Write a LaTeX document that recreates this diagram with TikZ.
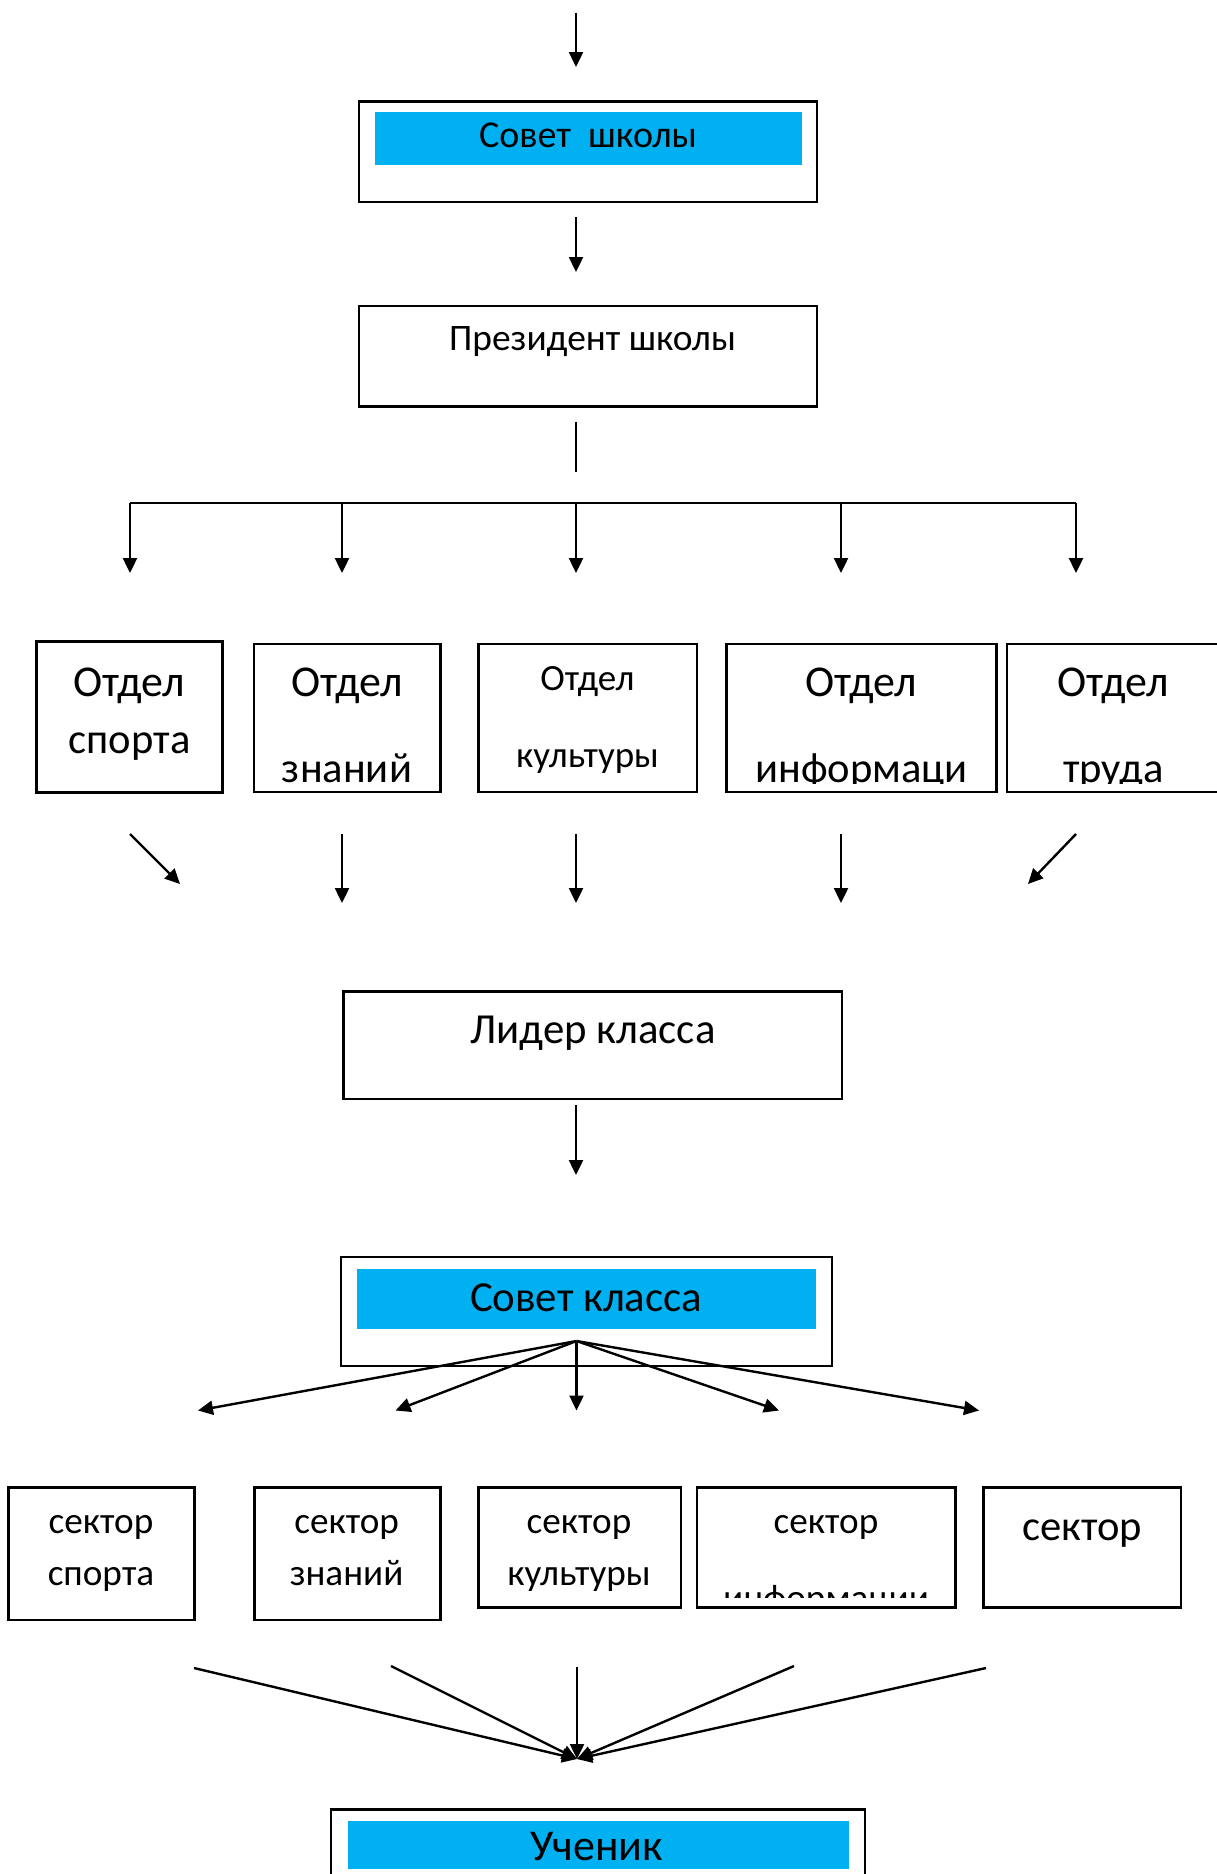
\documentclass[tikz,border=0pt]{standalone}
\usepackage{fontspec}
\setmainfont{Carlito}
\usetikzlibrary{arrows.meta}
\definecolor{barblue}{RGB}{0,176,240}
\tikzset{box/.style = {draw, line width=1.2pt, inner sep=0, outer sep=0},
  arr/.style = {line width=1.2pt, -{Triangle[length=7.5pt, width=7pt]}},
  txt/.style = {anchor=base, inner sep=0}}
\newcommand{\fs}[1]{\fontsize{#1}{#1}\selectfont}

\begin{document}
\begin{tikzpicture}[x=0.5pt, y=-0.5pt]
    \useasboundingbox (0, 0) rectangle (1216, 1874);

    % school level
    \coordinate (t0) at (576, 12.6);
    \coordinate (t1) at (576, 67);
    \draw [arr] (t0) -- (t1);

    \node [box, minimum width=229pt, minimum height=50.25pt] (sovSh) at (588, 151.75) {};
    \fill [barblue] (375, 112) rectangle (802, 165);
    \node [txt, font=\fs{19pt}] (sovShT) at (588, 147.3) {Совет~~школы};

    \coordinate (t2) at (576, 217);
    \coordinate (t3) at (576, 272);
    \draw [arr] (t2) -- (t3);

    \node [box, minimum width=229pt, minimum height=50.2pt] (pres) at (588, 356.2) {};
    \node [txt, font=\fs{18.7pt}] (presT) at (592.5, 350) {Президент школы};

    \coordinate (p0) at (576, 421.7);
    \coordinate (p1) at (576, 471.5);
    \draw [line width=1.2pt] (p0) -- (p1);

    \coordinate (busL) at (130, 503);
    \coordinate (busR) at (1076, 503);
    \draw [line width=1.2pt] (busL) -- (busR);
    \foreach \x [count=\i] in {130, 342, 576, 841, 1076} {
      \coordinate (drop\i) at (\x, 573);
      \draw [arr] (drop\i |- busL) -- (drop\i);
    }

    % departments
    \node [box, minimum width=93.1pt, minimum height=75.45pt] (otdSport) at (129.5, 717) {};
    \node [box, minimum width=93.25pt, minimum height=74.25pt] (otdZn) at (347.25, 718) {};
    \node [box, minimum width=109.25pt, minimum height=74.25pt] (otdKult) at (587.75, 718) {};
    \node [box, minimum width=135pt, minimum height=74.25pt] (otdInf) at (861.55, 718) {};
    \node [box, minimum width=106.65pt, minimum height=74.25pt] (otdTrud) at (1113.35, 718) {};

    \node [txt, font=\fs{22pt}] (otdSportA) at (129.5, 696) {Отдел};
    \node [txt, font=\fs{21.3pt}] (otdSportB) at (129.5, 753) {спорта};
    \node [txt, font=\fs{22pt}] (otdZnA) at (347, 696) {Отдел};
    \node [txt, font=\fs{21.3pt}] (otdZnB) at (347, 782) {знаний};
    \node [txt, font=\fs{18.5pt}] (otdKultA) at (587.5, 690.6) {Отдел};
    \node [txt, font=\fs{18.5pt}] (otdKultB) at (587.5, 767) {культуры};
    \node [txt, font=\fs{22pt}] (otdInfA) at (861.5, 696) {Отдел};
    \node [txt, font=\fs{22pt}] (otdTrudA) at (1113.5, 696) {Отдел};
    \begin{scope}
      \clip (700, 650) rectangle (1216, 783);
      \node [txt, font=\fs{21.3pt}] (otdInfB) at (861.5, 782) {информаци};
      \node [txt, font=\fs{21.3pt}] (otdTrudB) at (1113.5, 782) {труда};
    \end{scope}

    \foreach \a/\b/\c [count=\i] in {130/180/884, 342/342/903, 576/576/903, 841/841/903, 1076/1028/884} {
      \coordinate (u\i) at (\a, 834);
      \coordinate (v\i) at (\b, \c);
      \draw [arr] (u\i) -- (v\i);
    }

    % class level
    \node [box, minimum width=249.25pt, minimum height=53.75pt] (lider) at (592.75, 1045.25) {};
    \node [txt, font=\fs{21.4pt}] (liderT) at (593, 1043.3) {Лидер класса};

    \coordinate (l0) at (576, 1105);
    \coordinate (l1) at (576, 1175);
    \draw [arr] (l0) -- (l1);

    \node [box, minimum width=245.5pt, minimum height=54.35pt] (sovKl) at (586.5, 1311.35) {};
    \fill [barblue] (356.7, 1269) rectangle (816, 1329);
    \node [txt, font=\fs{21.4pt}] (sovKlT) at (586, 1311) {Совет класса};

    \coordinate (fanTop) at (576.5, 1341);
    \foreach \x [count=\i] in {198, 395.5, 576.5, 779, 979} {
      \coordinate (f\i) at (\x, 1410.5);
      \draw [arr] (fanTop) -- (f\i);
    }

    % sectors
    \node [box, minimum width=93.05pt, minimum height=66.3pt] (sSport) at (101.55, 1553.7) {};
    \node [box, minimum width=93.05pt, minimum height=66.3pt] (sZn) at (347.45, 1553.7) {};
    \node [box, minimum width=101.25pt, minimum height=60.05pt] (sKult) at (579.75, 1547.45) {};
    \node [box, minimum width=129.2pt, minimum height=60.05pt] (sInf) at (826.2, 1547.45) {};
    \node [box, minimum width=98.85pt, minimum height=60.05pt] (sLast) at (1082.15, 1547.45) {};

    \node [txt, font=\fs{18.6pt}] (sSportA) at (101, 1533) {сектор};
    \node [txt, font=\fs{18.6pt}] (sSportB) at (101, 1585) {спорта};
    \node [txt, font=\fs{18.6pt}] (sZnA) at (346.6, 1533) {сектор};
    \node [txt, font=\fs{18.6pt}] (sZnB) at (346.6, 1585) {знаний};
    \node [txt, font=\fs{18.6pt}] (sKultA) at (579, 1533) {сектор};
    \node [txt, font=\fs{18.6pt}] (sKultB) at (579, 1585) {культуры};
    \node [txt, font=\fs{18.6pt}] (sInfA) at (826, 1533) {сектор};
    \begin{scope}
      \clip (700, 1490) rectangle (950, 1597);
      \node [txt, font=\fs{18.6pt}] (sInfB) at (826, 1610) {информации};
    \end{scope}
    \node [txt, font=\fs{21.3pt}] (sLastA) at (1082, 1540) {сектор};

    \coordinate (uchIn) at (577, 1759);
    \foreach \x/\y [count=\i] in {194/1668, 391/1666, 577/1667, 794/1666, 986/1668} {
      \coordinate (g\i) at (\x, \y);
      \draw [arr] (g\i) -- (uchIn);
    }

    \node [box, minimum width=267pt, minimum height=42.75pt] (uch) at (598, 1852.25) {};
    \fill [barblue] (347.5, 1821) rectangle (849, 1869);
    \node [txt, font=\fs{22pt}] (uchT) at (596.5, 1860) {Ученик};

\end{tikzpicture}
\end{document}
